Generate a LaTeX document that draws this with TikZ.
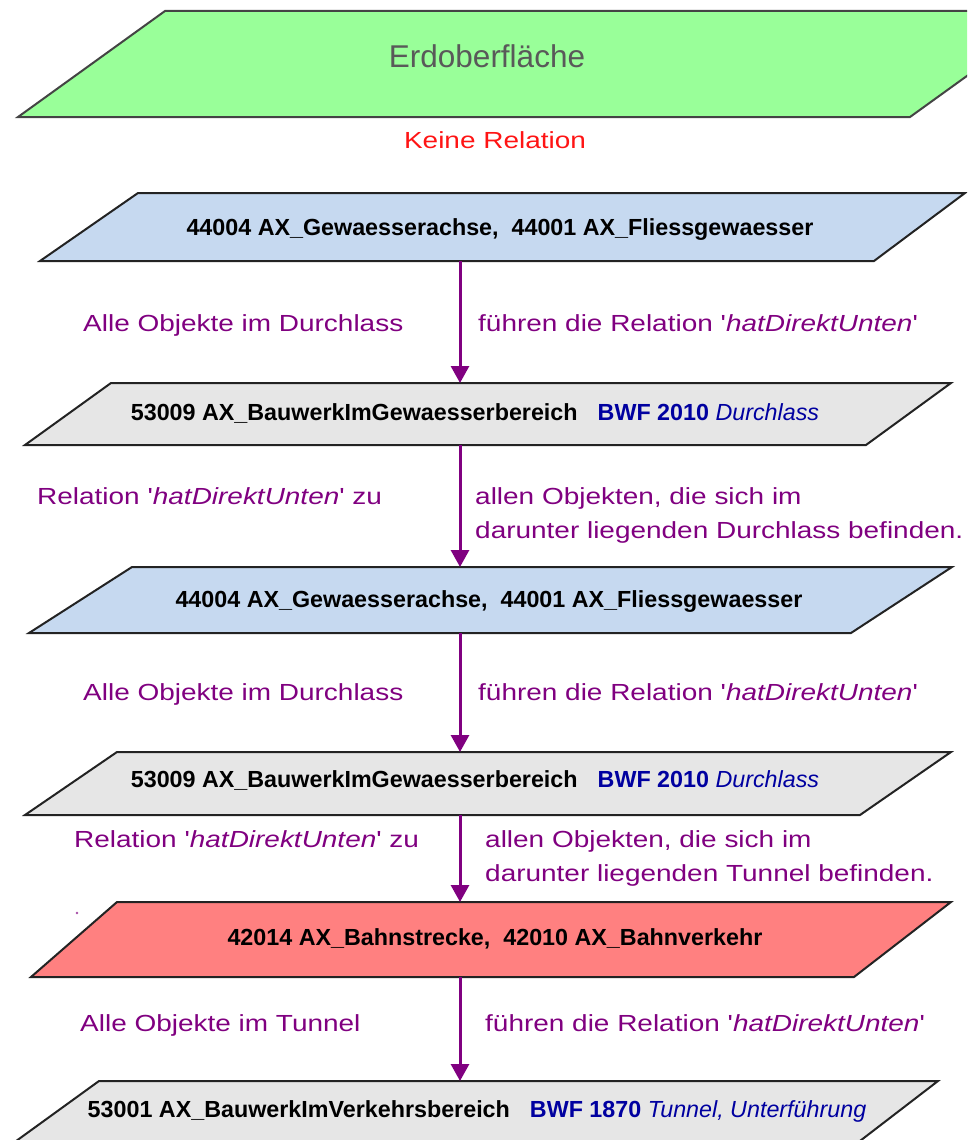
\documentclass[tikz,border=0pt]{standalone}
\usepackage{fontspec}
\setmainfont{Liberation Sans}
\newfontfamily\lblfont[FakeStretch=1.2]{Liberation Sans}
\usetikzlibrary{arrows.meta}

\definecolor{grnfill}{RGB}{153,255,153}
\definecolor{blufill}{RGB}{198,217,240}
\definecolor{gryfill}{RGB}{230,230,230}
\definecolor{redfill}{RGB}{255,128,128}
\definecolor{relcol}{RGB}{128,0,128}
\definecolor{bwfcol}{RGB}{0,0,160}
\definecolor{erdtext}{RGB}{89,89,89}
\definecolor{edgecol}{RGB}{35,35,35}
\definecolor{norel}{RGB}{255,20,20}

\tikzset{
  layer/.style={draw=edgecol, line width=2pt, line join=miter},
  objtext/.style={font=\fontsize{23.3}{28}\selectfont\bfseries, inner sep=0pt, anchor=base},
  rel/.style={font=\lblfont\fontsize{23.3}{34}\selectfont, text=relcol, inner sep=0pt, align=left},
  link/.style={draw=relcol, line width=3pt, -{Triangle[width=18pt,length=17pt]}},
}

\begin{document}
\begin{tikzpicture}[x=1pt,y=-1pt]
\useasboundingbox (0,0) rectangle (967,1140);
\clip (0,0) rectangle (967,1140);

% layers, top to bottom
\filldraw[layer, fill=grnfill, draw=edgecol!85] (18,117) -- (165,11) -- (1057,11) -- (910,117) -- cycle;
\filldraw[layer, fill=blufill] (40,261) -- (138,193) -- (965,193) -- (874,261) -- cycle;
\filldraw[layer, fill=gryfill] (25,445) -- (111,383) -- (951,383) -- (866,445) -- cycle;
\filldraw[layer, fill=blufill] (29,633) -- (132,567) -- (952,567) -- (851,633) -- cycle;
\filldraw[layer, fill=gryfill] (25,815) -- (117,752) -- (951,752) -- (860,815) -- cycle;
\filldraw[layer, fill=redfill] (31,977) -- (117,902) -- (951,902) -- (854,977) -- cycle;
\filldraw[layer, fill=gryfill] (12,1144) -- (99,1081) -- (938,1081) -- (856,1144) -- cycle;

% layer captions
\node[font=\fontsize{31.5}{36}\selectfont, text=erdtext, inner sep=0pt, anchor=base] (erd) at (487,67) {Erdoberfläche};
\node[rel, text=norel, anchor=base] (keine) at (495,148) {Keine Relation};

\node[objtext] (t1) at (500,235) {44004 AX\_Gewaesserachse,\ \ 44001 AX\_Fliessgewaesser};
\node[objtext] (t2) at (475,420) {53009 AX\_BauwerkImGewaesserbereich\hspace{20pt}{\color{bwfcol}BWF 2010 \mdseries\itshape Durchlass}};
\node[objtext] (t3) at (489,607) {44004 AX\_Gewaesserachse,\ \ 44001 AX\_Fliessgewaesser};
\node[objtext] (t4) at (475,787) {53009 AX\_BauwerkImGewaesserbereich\hspace{20pt}{\color{bwfcol}BWF 2010 \mdseries\itshape Durchlass}};
\node[objtext] (t5) at (495,945) {42014 AX\_Bahnstrecke,\ \ 42010 AX\_Bahnverkehr};
\node[objtext] (t6) at (477,1117) {53001 AX\_BauwerkImVerkehrsbereich\hspace{20pt}{\color{bwfcol}BWF 1870 \mdseries\itshape Tunnel, Unterführung}};

% relation labels
\node[rel, anchor=base west] (l1) at (83,331) {Alle Objekte im Durchlass};
\node[rel, anchor=base west] (r1) at (478,331) {führen die Relation '\textit{hatDirektUnten}'};
\node[rel, anchor=base west] (l2) at (37,504) {Relation '\textit{hatDirektUnten}' zu};
\node[rel, anchor=north west] (r2) at (475,487) {allen Objekten, die sich im\\darunter liegenden Durchlass befinden.};
\node[rel, anchor=base west] (l3) at (83,700) {Alle Objekte im Durchlass};
\node[rel, anchor=base west] (r3) at (478,700) {führen die Relation '\textit{hatDirektUnten}'};
\node[rel, anchor=base west] (l4) at (74,847) {Relation '\textit{hatDirektUnten}' zu};
\node[rel, anchor=north west] (r4) at (485,830) {allen Objekten, die sich im\\darunter liegenden Tunnel befinden.};
\node[rel, anchor=base west] (l5) at (80,1031) {Alle Objekte im Tunnel};
\node[rel, anchor=base west] (r5) at (485,1031) {führen die Relation '\textit{hatDirektUnten}'};

\fill[relcol!70] (77,913) circle (1.3);

% connector end points on the layer edges
\coordinate (b1s) at (460,261);
\coordinate (g1n) at (460,383);
\coordinate (g1s) at (460,445);
\coordinate (b2n) at (460,567);
\coordinate (b2s) at (460,633);
\coordinate (g2n) at (460,752);
\coordinate (g2s) at (460,815);
\coordinate (rdn) at (460,902);
\coordinate (rds) at (460,977);
\coordinate (g3n) at (460,1081);

\draw[link] (b1s) -- (g1n);
\draw[link] (g1s) -- (b2n);
\draw[link] (b2s) -- (g2n);
\draw[link] (g2s) -- (rdn);
\draw[link] (rds) -- (g3n);
\end{tikzpicture}
\end{document}
